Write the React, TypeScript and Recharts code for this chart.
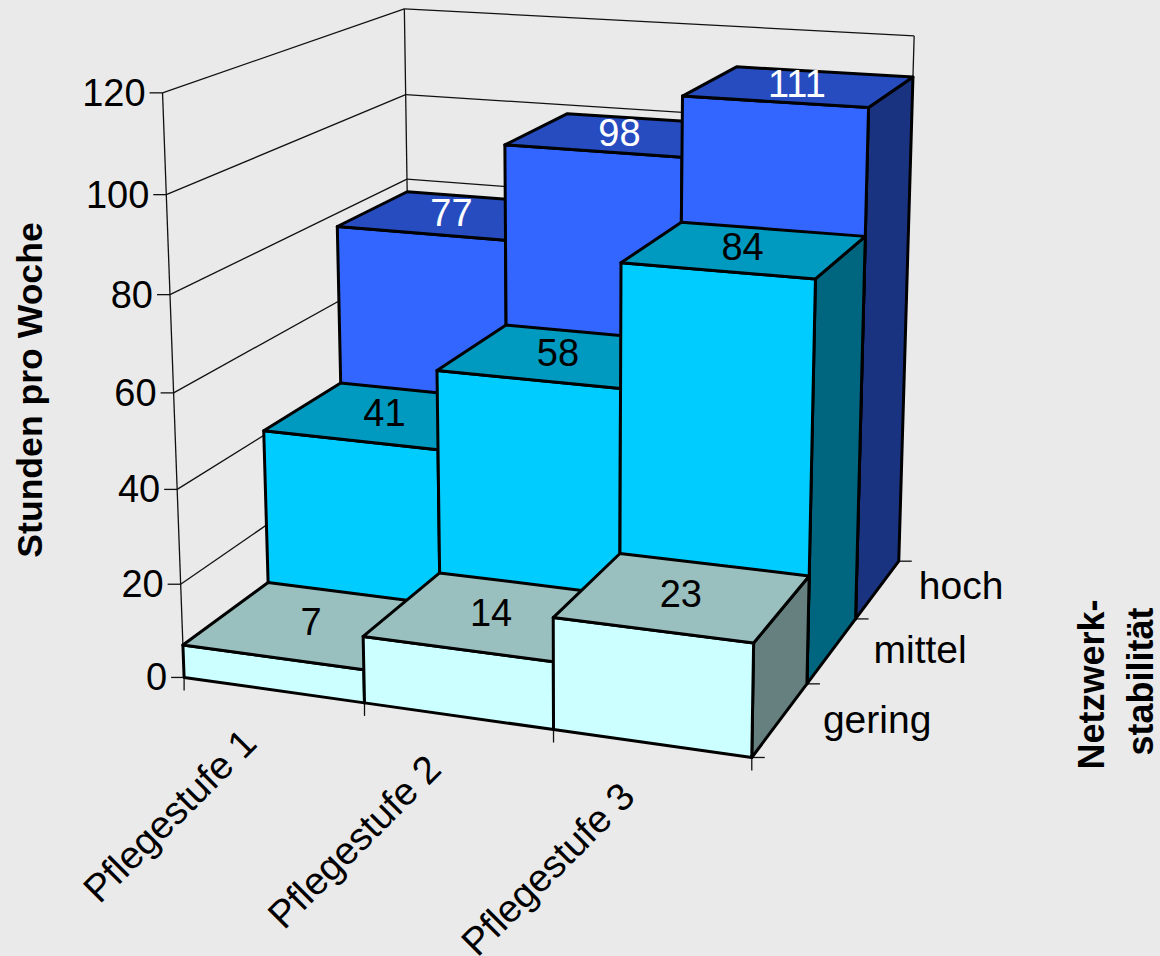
import React from 'react';
import { ComposedChart, Bar, XAxis, YAxis, Customized } from 'recharts';

const categories = ['Pflegestufe 1', 'Pflegestufe 2', 'Pflegestufe 3'];
const depthLabels = ['gering', 'mittel', 'hoch'];
const gering = [7, 14, 23];
const mittel = [41, 58, 84];
const hoch = [77, 98, 111];
const valueTicks = [0, 20, 40, 60, 80, 100, 120];

const rows = categories.map((name, i) => ({ name, gering: gering[i], mittel: mittel[i], hoch: hoch[i] }));

// Camera calibration: [category pos, depth pos, value, screen x, screen y]
const calibration: number[][] = [
  [0, 0, 0, 184, 678], [3, 0, 0, 750, 757], [3, 1, 0, 808, 684], [3, 2, 0, 857, 617], [3, 3, 0, 900, 559],
  [3, 0, 23, 753, 644], [3, 1, 23, 807, 579], [3, 1, 84, 817, 280], [3, 2, 84, 864, 236],
  [3, 2, 111, 868, 108], [3, 3, 111, 915, 78], [0, 0, 120, 163, 93], [0, 3, 120, 406, 8], [3, 3, 120, 914, 36],
  [0, 0, 7, 181, 645], [0, 1, 41, 262, 432], [0, 2, 77, 339, 227], [1, 0, 14, 364, 635], [2, 0, 23, 553, 618],
  [1, 1, 58, 437, 371], [2, 1, 84, 622, 261], [1, 2, 98, 506, 142], [2, 2, 111, 683, 97],
  [0, 1, 7, 268, 584], [0, 2, 41, 342, 386], [0, 3, 77, 409, 194], [1, 3, 98, 555, 112], [2, 3, 111, 738, 69],
  [1, 1, 14, 440, 572], [2, 1, 23, 621, 553], [0, 0, 100, 167, 193], [0, 0, 20, 181, 583], [0, 3, 100, 407, 93],
];

function solveCamera(): number[] {
  const n = 11;
  const A: number[][] = Array.from({ length: n }, () => new Array(n + 1).fill(0));
  const add = (r: number[], b: number) => {
    for (let i = 0; i < n; i++) {
      for (let j = 0; j < n; j++) A[i][j] += r[i] * r[j];
      A[i][n] += r[i] * b;
    }
  };
  calibration.forEach(([c, d, v, sx, sy]) => {
    const X = c / 3, Y = d / 3, Z = v / 120, u = sx / 1000, w = sy / 1000;
    add([X, Y, Z, 1, 0, 0, 0, 0, -u * X, -u * Y, -u * Z], u);
    add([0, 0, 0, 0, X, Y, Z, 1, -w * X, -w * Y, -w * Z], w);
  });
  for (let i = 0; i < n; i++) {
    let p = i;
    for (let k = i + 1; k < n; k++) if (Math.abs(A[k][i]) > Math.abs(A[p][i])) p = k;
    [A[i], A[p]] = [A[p], A[i]];
    for (let k = 0; k < n; k++) {
      if (k === i) continue;
      const f = A[k][i] / A[i][i];
      for (let j = i; j <= n; j++) A[k][j] -= f * A[i][j];
    }
  }
  return A.map((r, i) => r[n] / r[i]);
}
const cam = solveCamera();

function project(c: number, d: number, v: number): [number, number] {
  const X = c / 3, Y = d / 3, Z = v / 120;
  const h = cam[8] * X + cam[9] * Y + cam[10] * Z + 1;
  return [
    (1000 * (cam[0] * X + cam[1] * Y + cam[2] * Z + cam[3])) / h,
    (1000 * (cam[4] * X + cam[5] * Y + cam[6] * Z + cam[7])) / h,
  ];
}
const pts = (list: [number, number][]) => list.map((p) => `${p[0]},${p[1]}`).join(' ');

const FONT = '"Liberation Sans", Arial, sans-serif';
const FS = 38;
const TEXT = '#000';

type Palette = { front: string; top: string; side: string; label: string };
const palettes: Palette[] = [
  { front: '#CCFFFF', top: '#99BFBF', side: '#668080', label: '#000' },
  { front: '#00CCFF', top: '#0099BF', side: '#006680', label: '#000' },
  { front: '#3366FF', top: '#264CBF', side: '#1A3380', label: '#fff' },
];

function Box({ c, d, v }: { c: number; d: number; v: number }) {
  const pal = palettes[d];
  const f00 = project(c, d, 0), f10 = project(c + 1, d, 0), f01 = project(c, d, v), f11 = project(c + 1, d, v);
  const b10 = project(c + 1, d + 1, 0), b01 = project(c, d + 1, v), b11 = project(c + 1, d + 1, v);
  const mid = project(c + 0.5, d + 0.5, v);
  const s = { stroke: '#000', strokeWidth: 3, strokeLinejoin: 'round' as const };
  return (
    <g>
      <polygon points={pts([f10, b10, b11, f11])} fill={pal.side} {...s} />
      <polygon points={pts([f00, f10, f11, f01])} fill={pal.front} {...s} />
      <polygon points={pts([f01, f11, b11, b01])} fill={pal.top} {...s} />
      <text x={mid[0] - 3} y={mid[1] - 2} textAnchor="middle" dominantBaseline="central" fontFamily={FONT} fontSize={FS} fill={pal.label}>
        {v}
      </text>
    </g>
  );
}

const shapeFor = (d: number, values: number[]) => (p: any) => <Box key={p.index} c={p.index} d={d} v={values[p.index]} />;

function Line3({ a, b, w = 1.3 }: { a: [number, number]; b: [number, number]; w?: number }) {
  return <line x1={a[0]} y1={a[1]} x2={b[0]} y2={b[1]} stroke="#111" strokeWidth={w} />;
}

function Walls() {
  const catPos = [0, 1, 2, 3];
  const depthPos = [0, 1, 2, 3];
  return (
    <g>
      {valueTicks.map((v) => (
        <g key={v}>
          <Line3 a={project(0, 0, v)} b={project(0, 3, v)} />
          <Line3 a={project(0, 3, v)} b={project(3, 3, v)} />
          <Line3 a={project(0, 0, v)} b={[project(0, 0, v)[0] - 13, project(0, 0, v)[1]]} />
        </g>
      ))}
      <Line3 a={project(0, 0, 0)} b={project(0, 0, 120)} />
      <Line3 a={project(0, 3, 0)} b={project(0, 3, 120)} />
      <Line3 a={project(3, 3, 0)} b={project(3, 3, 120)} />
      {catPos.map((c) => {
        const p = project(c, 0, 0);
        return <Line3 key={c} a={p} b={[p[0], p[1] + 13]} />;
      })}
      {depthPos.map((d) => {
        const p = project(3, d, 0);
        return <Line3 key={d} a={p} b={[p[0] + 13, p[1]]} />;
      })}
    </g>
  );
}

function DepthLabels() {
  const dyByDepth = [36, 31, 24];
  return (
    <g>
      {depthLabels.map((t, d) => {
        const p = project(3, d + 1, 0);
        return (
          <text key={t} x={p[0] + 16 + d * 2} y={p[1] + dyByDepth[d]} dominantBaseline="central" fontFamily={FONT} fontSize={39} fill={TEXT}>
            {t}
          </text>
        );
      })}
      <text transform="translate(42,390) rotate(-90)" textAnchor="middle" fontFamily={FONT} fontSize={35.6} fontWeight={700} fill={TEXT}>
        Stunden pro Woche
      </text>
      <text transform="translate(1104,684.5) rotate(-90)" textAnchor="middle" fontFamily={FONT} fontSize={36} fontWeight={700} fill={TEXT}>
        Netzwerk-
      </text>
      <text transform="translate(1153,681.5) rotate(-90)" textAnchor="middle" fontFamily={FONT} fontSize={36} fontWeight={700} fill={TEXT}>
        stabilität
      </text>
    </g>
  );
}

function ValueTick({ payload }: any) {
  const p = project(0, 0, payload.value);
  return (
    <text x={p[0] - 17} y={p[1]} textAnchor="end" dominantBaseline="central" fontFamily={FONT} fontSize={FS} fill={TEXT}>
      {payload.value}
    </text>
  );
}

function CategoryTick({ payload, index }: any) {
  const p = project(index + 0.5, 0, 0);
  return (
    <text transform={`translate(${p[0] - 14.6},${p[1] + 55.4}) rotate(-45)`} textAnchor="end" fontFamily={FONT} fontSize={38.6} fill={TEXT}>
      {payload.value}
    </text>
  );
}

export default function App() {
  return (
    <div style={{ position: 'absolute', left: 0, top: 0, width: 1160, height: 956, background: '#EAEAEA', overflow: 'hidden' }}>
      <ComposedChart width={1160} height={956} data={rows} margin={{ top: 0, right: 0, bottom: 0, left: 0 }}>
        <XAxis dataKey="name" interval={0} height={1} axisLine={false} tickLine={false} tick={<CategoryTick />} />
        <YAxis domain={[0, 120]} ticks={valueTicks} interval={0} width={1} axisLine={false} tickLine={false} tick={<ValueTick />} />
        <Customized component={Walls} />
        <Bar dataKey="hoch" isAnimationActive={false} shape={shapeFor(2, hoch)} />
        <Bar dataKey="mittel" isAnimationActive={false} shape={shapeFor(1, mittel)} />
        <Bar dataKey="gering" isAnimationActive={false} shape={shapeFor(0, gering)} />
        <Customized component={DepthLabels} />
      </ComposedChart>
    </div>
  );
}
